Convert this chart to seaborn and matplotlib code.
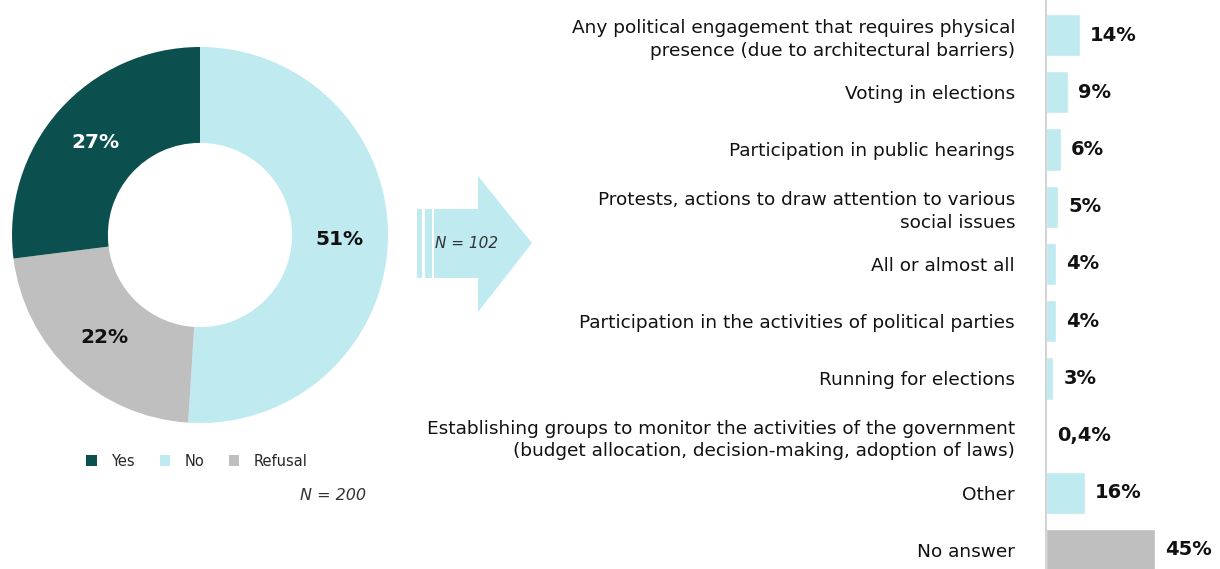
import matplotlib
matplotlib.use("Agg")
import matplotlib.pyplot as plt
import seaborn as sns
import pandas as pd
from matplotlib.patches import Polygon, Rectangle, Patch

# ---------------- data ----------------
donut_labels = ["Yes", "No", "Refusal"]
donut_values = [27, 51, 22]
donut_colors = ["#0B4F4E", "#BEEAF0", "#BFBFBF"]
donut_n = "N = 200"

bar_categories = [
    "Any political engagement that requires physical\npresence (due to architectural barriers)",
    "Voting in elections",
    "Participation in public hearings",
    "Protests, actions to draw attention to various\nsocial issues",
    "All or almost all",
    "Participation in the activities of political parties",
    "Running for elections",
    "Establishing groups to monitor the activities of the government\n(budget allocation, decision-making, adoption of laws)",
    "Other",
    "No answer",
]
bar_values = [14, 9, 6, 5, 4, 4, 3, 0.4, 16, 45]
bar_value_labels = ["14%", "9%", "6%", "5%", "4%", "4%", "3%", "0,4%", "16%", "45%"]
bar_colors = ["#BEEAF0"] * 9 + ["#BFBFBF"]
bar_n = "N = 102"

# ---------------- figure ----------------
sns.set_theme(style="white")
plt.rcParams['font.family'] = ['DejaVu Sans']

W, H = 1220, 569
fig = plt.figure(figsize=(W / 100, H / 100), dpi=100)
fig.patch.set_facecolor("white")


def px_axes(x0, y0, x1, y1, **kw):
    return fig.add_axes([x0 / W, 1 - y1 / H, (x1 - x0) / W, (y1 - y0) / H], **kw)


# background overlay for arrow and notes
bg = px_axes(0, 0, W, H)
bg.set_xlim(0, W)
bg.set_ylim(H, 0)
bg.axis("off")

arrow_col = "#BEEAF0"
bg.add_patch(Polygon([(434, 209), (478, 209), (478, 176), (532, 243),
                      (478, 312), (478, 278), (434, 278)],
                     closed=True, facecolor=arrow_col, edgecolor="none"))
bg.add_patch(Rectangle((417, 209), 5, 69, facecolor=arrow_col, edgecolor="none"))
bg.add_patch(Rectangle((425, 209), 7, 69, facecolor=arrow_col, edgecolor="none"))
bg.text(467, 243, bar_n, fontsize=11, style="italic", color="#333333",
        ha="center", va="center")
bg.text(333, 495, donut_n, fontsize=11.5, style="italic", color="#333333",
        ha="center", va="center")

# ---------------- donut ----------------
axp = px_axes(0, 35, 400, 435)
order = ["No", "Refusal", "Yes"]
vals = [donut_values[donut_labels.index(k)] for k in order]
cols = [donut_colors[donut_labels.index(k)] for k in order]
wedges, texts, autotexts = axp.pie(
    vals, colors=cols, startangle=90, counterclock=False, radius=1,
    wedgeprops=dict(width=0.51, edgecolor="none"),
    autopct=lambda p: f"{p:.0f}%", pctdistance=0.745,
    textprops=dict(fontsize=14.5, fontweight="bold", color="#111111"))
for k, t in zip(order, autotexts):
    if k == "Yes":
        t.set_color("white")
lim = 200 / 188
axp.set_xlim(-lim, lim)
axp.set_ylim(-lim, lim)
axp.set_aspect("equal")
axp.axis("off")

handles = [Patch(facecolor=c, edgecolor="none", label=l)
           for l, c in zip(donut_labels, donut_colors)]
fig.legend(handles=handles, loc="center", bbox_to_anchor=(197 / W, 1 - 461 / H),
           ncol=3, frameon=False, fontsize=10.5, handlelength=0.7, handleheight=0.7,
           columnspacing=1.7, handletextpad=1.0)

# ---------------- bars ----------------
x0 = 1046
axb = px_axes(x0, 0, W, H)
df = pd.DataFrame({"cat": bar_categories, "val": bar_values})
sns.barplot(data=df, x="val", y="cat", hue="cat", palette=bar_colors,
            legend=False, orient="h", width=0.74, ax=axb, saturation=1)
ppu = 2.42
axb.set_xlim(0, (W - x0) / ppu)
axb.set_ylim(9 + 19 / 57.2, -35 / 57.2)
axb.set_xlabel("")
axb.set_ylabel("")
axb.set_xticks([])
axb.tick_params(axis="y", length=0, pad=22.3, labelsize=13.3, labelcolor="#111111")
for lbl in axb.get_yticklabels():
    lbl.set_linespacing(1.35)
for s in ["top", "right", "bottom"]:
    axb.spines[s].set_visible(False)
axb.spines["left"].set_color("#D4D4D4")
axb.spines["left"].set_linewidth(1.5)
axb.set_facecolor("none")
for i, (v, t) in enumerate(zip(bar_values, bar_value_labels)):
    axb.text(v + 10 / ppu, i, t, va="center", ha="left", fontsize=14,
             fontweight="bold", color="#111111")

fig.savefig("out.png", dpi=100, facecolor="white")
